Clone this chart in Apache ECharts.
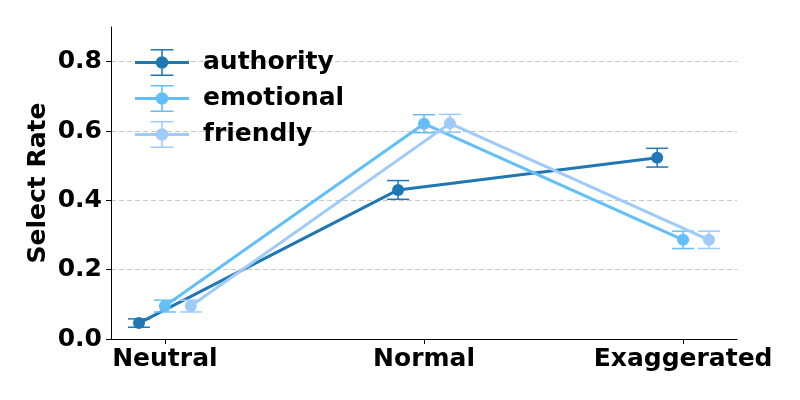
<!DOCTYPE html>
<html>
<head>
<meta charset="utf-8">
<script src="https://cdn.jsdelivr.net/npm/echarts@6/dist/echarts.min.js"></script>
<style>html,body{margin:0;padding:0;background:#fff;}#c{width:800px;height:400px;}</style>
</head>
<body>
<div id="c"></div>
<script>
const categories = ['Neutral', 'Normal', 'Exaggerated'];
const seriesNames = ['authority', 'emotional', 'friendly'];
const authority = [0.046, 0.430, 0.523];
const authorityErr = [0.012, 0.027, 0.027];
const emotional = [0.095, 0.621, 0.286];
const emotionalErr = [0.017, 0.026, 0.025];
const friendly = [0.095, 0.622, 0.286];
const friendlyErr = [0.017, 0.026, 0.025];
const yTicks = [0, 0.2, 0.4, 0.6, 0.8];

const colors = ['#1f77b4', '#62bff9', '#9ecbfa'];
const offsets = [-0.1, 0, 0.1];
const values = [authority, emotional, friendly];
const errs = [authorityErr, emotionalErr, friendlyErr];
const FONT = 'DejaVu Sans';

const iconPath = 'path://M0 11.5 H52 V14.5 H0 Z M25.25 0 H26.75 V26 H25.25 Z M15 0 H37 V1.5 H15 Z M15 24.5 H37 V26 H15 Z M20 13 A6 6 0 1 1 32 13 A6 6 0 1 1 20 13 Z';

const series = [];
seriesNames.forEach((name, si) => {
  const pts = values[si].map((v, i) => [i + offsets[si], v]);
  series.push({
    name: name,
    type: 'line',
    data: pts,
    symbol: 'circle',
    symbolSize: 12,
    lineStyle: { width: 3, color: colors[si] },
    itemStyle: { color: colors[si] },
    z: 3 + si * 2,
    animation: false
  });
  series.push({
    name: name,
    type: 'custom',
    data: values[si].map((v, i) => [i + offsets[si], v - errs[si][i], v + errs[si][i]]),
    renderItem: function (params, api) {
      const x = api.value(0);
      const lo = api.coord([x, api.value(1)]);
      const hi = api.coord([x, api.value(2)]);
      const half = 11;
      const st = { stroke: colors[si], lineWidth: 1.5 };
      return {
        type: 'group',
        children: [
          { type: 'line', shape: { x1: lo[0], y1: lo[1], x2: hi[0], y2: hi[1] }, style: st },
          { type: 'line', shape: { x1: lo[0] - half, y1: lo[1], x2: lo[0] + half, y2: lo[1] }, style: st },
          { type: 'line', shape: { x1: hi[0] - half, y1: hi[1], x2: hi[0] + half, y2: hi[1] }, style: st }
        ]
      };
    },
    encode: { x: 0, y: [1, 2] },
    z: 2 + si * 2,
    animation: false
  });
});

const chart = echarts.init(document.getElementById('c'));
chart.setOption({
  animation: false,
  backgroundColor: '#ffffff',
  grid: { left: 111, right: 63, top: 27, bottom: 61, containLabel: false },
  legend: {
    data: seriesNames.map((n, i) => ({ name: n, icon: iconPath, itemStyle: { color: colors[i] } })),
    orient: 'vertical',
    left: 130,
    top: 44,
    itemWidth: 54,
    itemHeight: 27,
    itemGap: 9,
    selectedMode: false,
    textStyle: { fontFamily: FONT, fontWeight: 'bold', fontSize: 25, color: '#000', padding: [0, 0, 0, 9] }
  },
  xAxis: {
    type: 'value',
    min: -0.208,
    max: 2.208,
    axisLine: { show: true, onZero: false, lineStyle: { color: '#000', width: 1 } },
    axisTick: { show: true, length: 5, lineStyle: { color: '#000' }, customValues: [0, 1, 2] },
    axisLabel: {
      customValues: [0, 1, 2],
      formatter: v => categories[Math.round(v)],
      fontFamily: FONT, fontWeight: 'bold', fontSize: 25, color: '#000', margin: 8
    },
    splitLine: { show: false }
  },
  yAxis: {
    type: 'value',
    min: 0,
    max: 0.9,
    name: 'Select Rate',
    nameLocation: 'middle',
    nameGap: 60,
    nameMoveOverlap: false,
    nameTextStyle: { fontFamily: FONT, fontWeight: 'bold', fontSize: 25, color: '#000' },
    axisLine: { show: true, onZero: false, lineStyle: { color: '#000', width: 1 } },
    axisTick: { show: true, length: 5, lineStyle: { color: '#000' }, customValues: yTicks },
    axisLabel: {
      customValues: yTicks,
      formatter: v => v.toFixed(1),
      fontFamily: FONT, fontWeight: 'bold', fontSize: 25, color: '#000', margin: 9,
      padding: [4, 0, 0, 0]
    },
    splitLine: { show: true, showMinLine: false, showMaxLine: true, lineStyle: { color: '#c8c8c8', type: [5, 3], width: 1 } }
  },
  series: series
});
</script>
</body>
</html>
